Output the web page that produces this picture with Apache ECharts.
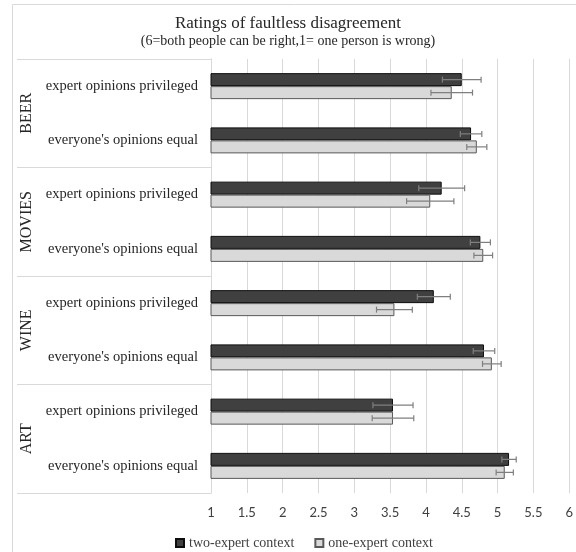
<!DOCTYPE html>
<html>
<head>
<meta charset="utf-8">
<script src="https://cdn.jsdelivr.net/npm/echarts@6/dist/echarts.min.js"></script>
<style>
  html, body { margin: 0; padding: 0; background: #ffffff; }
  #chart { width: 576px; height: 552px; }
</style>
</head>
<body>
<div id="chart"></div>
<script>
// Rows (top to bottom) and the domain each pair of rows belongs to
const groups = ['BEER', 'MOVIES', 'WINE', 'ART'];
const categories = [
  'expert opinions privileged', "everyone's opinions equal",
  'expert opinions privileged', "everyone's opinions equal",
  'expert opinions privileged', "everyone's opinions equal",
  'expert opinions privileged', "everyone's opinions equal"
];
const seriesNames = ['two-expert context', 'one-expert context'];

// Mean ratings (1-6) and error half-widths per row
const twoExpert    = [4.50, 4.63, 4.22, 4.76, 4.11, 4.81, 3.54, 5.16];
const oneExpert    = [4.36, 4.71, 4.06, 4.80, 3.56, 4.92, 3.54, 5.10];
const twoExpertErr = [0.27, 0.15, 0.32, 0.14, 0.23, 0.15, 0.28, 0.10];
const oneExpertErr = [0.29, 0.14, 0.33, 0.13, 0.25, 0.13, 0.29, 0.12];

// Axis ticks
const xMin = 1, xMax = 6, xStep = 0.5;

const serif = '"Liberation Serif", "Times New Roman", serif';
const BAR_W = 13;

function errorSeries(values, errs, offset) {
  return {
    type: 'custom',
    z: 5,
    silent: true,
    encode: { x: 0, y: 1 },
    data: values.map((v, i) => [v, i, errs[i]]),
    renderItem: function (params, api) {
      const v = api.value(0), idx = api.value(1), e = api.value(2);
      const lo = api.coord([v - e, idx]);
      const hi = api.coord([v + e, idx]);
      const y = lo[1] + offset;
      const cap = 3;
      const style = { stroke: '#7f7f7f', lineWidth: 1.2 };
      return {
        type: 'group',
        children: [
          { type: 'line', shape: { x1: lo[0], y1: y, x2: hi[0], y2: y }, style: style },
          { type: 'line', shape: { x1: lo[0], y1: y - cap, x2: lo[0], y2: y + cap }, style: style },
          { type: 'line', shape: { x1: hi[0], y1: y - cap, x2: hi[0], y2: y + cap }, style: style }
        ]
      };
    }
  };
}

const chart = echarts.init(document.getElementById('chart'), null, { renderer: 'canvas' });

chart.setOption({
  animation: false,
  backgroundColor: '#ffffff',
  title: {
    text: 'Ratings of faultless disagreement',
    subtext: '(6=both people can be right,1= one person is wrong)',
    left: 'center',
    top: 15,
    padding: 0,
    itemGap: 2,
    textStyle: { fontFamily: serif, fontSize: 17, fontWeight: 'normal', color: '#262626' },
    subtextStyle: { fontFamily: serif, fontSize: 14, color: '#262626' }
  },
  graphic: [{
    type: 'rect',
    silent: true,
    shape: { x: 12.5, y: 4.5, width: 700, height: 700 },
    style: { fill: 'none', stroke: '#d9d9d9', lineWidth: 1 }
  }],
  legend: {
    data: seriesNames,
    left: 170,
    top: 531,
    itemWidth: 8,
    itemHeight: 8,
    itemGap: 20,
    icon: 'rect',
    textStyle: { fontFamily: serif, fontSize: 14, color: '#404040' }
  },
  grid: { left: 211, right: 4, top: 59, bottom: 59 },
  xAxis: {
    type: 'value',
    min: xMin,
    max: xMax,
    interval: xStep,
    axisLine: { show: false },
    axisTick: { show: false },
    splitLine: { show: true, lineStyle: { color: '#d9d9d9', width: 1 } },
    axisLabel: {
      margin: 13,
      fontFamily: 'Lato, "Open Sans", sans-serif',
      fontSize: 13,
      color: '#404040',
      formatter: v => String(v)
    }
  },
  yAxis: [
    {
      type: 'category',
      data: categories,
      inverse: true,
      axisLine: { show: true, lineStyle: { color: '#d9d9d9' } },
      axisTick: { show: false },
      splitLine: { show: false },
      axisLabel: { margin: 13, fontFamily: serif, fontSize: 14.5, color: '#262626', interval: 0 }
    },
    {
      type: 'category',
      data: groups,
      inverse: true,
      position: 'left',
      axisLine: { show: true, lineStyle: { color: '#d9d9d9' } },
      axisTick: { show: true, length: 194, lineStyle: { color: '#d9d9d9' } },
      splitLine: { show: false },
      axisLabel: { rotate: 90, margin: 176, fontFamily: serif, fontSize: 16, color: '#262626' }
    }
  ],
  series: [
    {
      name: seriesNames[0],
      type: 'bar',
      yAxisIndex: 0,
      data: twoExpert,
      barWidth: BAR_W,
      barGap: '0%',
      itemStyle: { color: '#404040', borderColor: '#0d0d0d', borderWidth: 1 }
    },
    {
      name: seriesNames[1],
      type: 'bar',
      yAxisIndex: 0,
      data: oneExpert,
      barWidth: BAR_W,
      barGap: '0%',
      itemStyle: { color: '#d9d9d9', borderColor: '#595959', borderWidth: 1 }
    },
    errorSeries(twoExpert, twoExpertErr, -BAR_W / 2),
    errorSeries(oneExpert, oneExpertErr, BAR_W / 2)
  ]
});
</script>
</body>
</html>
